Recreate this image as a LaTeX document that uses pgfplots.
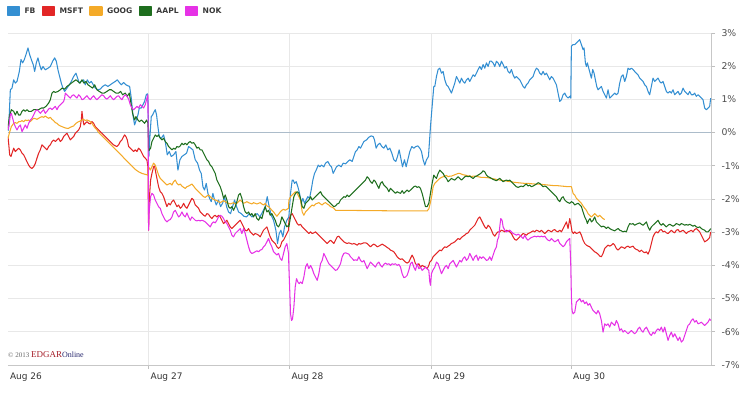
\documentclass[border=0pt]{standalone}
\usepackage{pgfplots}
\pgfplotsset{compat=1.18}
\usepackage{fontspec}
\setmainfont{DejaVu Sans}
\newfontfamily\lserif{Liberation Serif}
\definecolor{cFB}{RGB}{52,143,210}
\definecolor{cMS}{RGB}{226,38,38}
\definecolor{cGO}{RGB}{244,170,40}
\definecolor{cAA}{RGB}{30,110,30}
\definecolor{cNO}{RGB}{230,50,230}
\definecolor{zeroline}{RGB}{172,188,202}
\definecolor{edgarred}{RGB}{165,30,40}
\definecolor{edgarblue}{RGB}{40,40,110}
\begin{document}
\begin{tikzpicture}
\useasboundingbox (0pt,0pt) rectangle (750pt,395pt);
\begin{axis}[
  at={(8pt,30pt)}, anchor=south west,
  scale only axis, width=703pt, height=332pt,
  xmin=0, xmax=2110, ymin=-7, ymax=3,
  axis x line*=bottom, axis y line*=right,
  axis line style={draw=black!22, line width=0.8pt},
  xtick={422,845,1270,1690},
  xticklabels={Aug 27,Aug 28,Aug 29,Aug 30},
  extra x ticks={0}, extra x tick labels={Aug 26},
  extra x tick style={grid=none, tick style={draw=none}},
  ytick={-7,-6,-5,-4,-3,-2,-1,1,2,3},
  yticklabels={-7\%,-6\%,-5\%,-4\%,-3\%,-2\%,-1\%,1\%,2\%,3\%},
  extra y ticks={0}, extra y tick labels={0\%},
  extra y tick style={major grid style={draw=zeroline, line width=0.9pt}},
  grid=major,
  major grid style={draw=black!9, line width=0.8pt},
  tick align=outside, major tick length=4pt,
  tick style={draw=black!25, line width=0.8pt},
  xticklabel style={anchor=north west, xshift=-1.5pt, font=\fontsize{9}{10}\selectfont, text=black!80},
  yticklabel style={anchor=west, xshift=3pt, font=\fontsize{9.3}{10}\selectfont, text=black!70},
  legend columns=5,
  legend cell align=left,
  legend image code/.code={\fill[#1] (0pt,-4pt) rectangle (12pt,4pt);},
  legend style={at={(rel axis cs:0,1)}, anchor=west, xshift=-1pt, yshift=22pt,
    draw=none, fill=none, inner sep=0pt, outer sep=0pt,
    font=\bfseries\fontsize{7.6}{8}\selectfont, text=black!78,
    /tikz/every odd column/.append style={column sep=2.5pt},
    /tikz/every even column/.append style={column sep=4.5pt}},
  every axis plot/.append style={line width=1.05pt, line join=round},
]
% FB
\addplot[color=cFB] coordinates {
(0,0.05)(2,0.13)(7,1.29)(12,1.34)(17,1.59)(22,1.49)(27,1.54)(34,1.84)(39,2.20)(44,2.10)(49,2.20)(54,2.35)(60,2.55)(65,2.35)(70,2.20)(76,2.04)(80,1.84)(85,2.10)(90,2.25)(95,2.04)(100,1.89)(105,1.99)(112,1.89)(120,1.94)(127,1.99)(134,2.15)(140,2.25)(145,2.15)(150,1.89)(155,1.69)(160,1.49)(165,1.34)(170,1.24)(177,1.34)(184,1.44)(190,1.54)(197,1.69)(204,1.79)(209,1.64)(214,1.49)(220,1.54)(227,1.59)(232,1.44)(238,1.59)(244,1.49)(250,1.54)(256,1.44)(262,1.34)(270,1.29)(277,1.31)(284,1.39)(292,1.44)(300,1.39)(307,1.44)(314,1.49)(322,1.54)(328,1.59)(334,1.51)(340,1.44)(347,1.51)(354,1.44)(360,1.41)(365,1.39)(370,1.04)(375,0.53)(380,0.23)(385,0.38)(390,0.53)(394,0.74)(400,0.74)(405,0.84)(410,0.94)(415,1.14)(418,1.17)(420,1.04)
(423,-0.72)(426,-0.12)(430,0.48)(434,0.53)(439,0.64)(442,0.69)(446,0.53)(450,0.18)(454,-0.12)(460,-0.17)(467,-0.07)(472,-0.27)(478,-0.67)(484,-0.57)(490,-0.72)(497,-0.67)(504,-0.57)(510,-1.13)(516,-0.82)(522,-0.72)(529,-0.67)(536,-0.62)(542,-0.42)(549,-0.47)(555,-0.52)(562,-0.82)(569,-0.92)(575,-1.13)(580,-1.23)(585,-1.63)(590,-1.73)(595,-1.53)(600,-1.83)(605,-1.98)(610,-2.08)(615,-1.83)(620,-2.03)(625,-2.18)(632,-2.03)(638,-2.23)(644,-2.13)(650,-1.93)(656,-2.23)(662,-2.39)(668,-2.44)(674,-2.23)(680,-2.03)(686,-2.23)(692,-2.39)(700,-2.44)(708,-2.52)(716,-2.54)(724,-2.44)(732,-2.54)(740,-2.49)(748,-2.44)(756,-2.54)(764,-2.39)(772,-2.23)(778,-1.93)(784,-2.23)(790,-2.49)(797,-2.64)(804,-2.94)(809,-3.34)(814,-3.04)(819,-2.94)(825,-3.14)(830,-2.84)(837,-2.64)(843,-2.54)
(848,-1.83)(853,-1.43)(856,-1.43)(860,-1.53)(865,-1.48)(870,-1.63)(875,-1.83)(880,-2.13)(885,-1.98)(890,-2.13)(895,-2.03)(900,-1.93)(905,-1.98)(910,-1.73)(915,-1.43)(920,-1.23)(925,-1.13)(931,-0.98)(936,-1.03)(941,-0.98)(948,-1.03)(953,-0.92)(960,-0.87)(966,-0.98)(971,-1.03)(976,-1.23)(981,-1.13)(986,-1.03)(993,-0.98)(1000,-1.03)(1006,-0.92)(1013,-0.94)(1020,-0.87)(1026,-0.82)(1033,-0.87)(1038,-0.72)(1043,-0.57)(1048,-0.52)(1053,-0.42)(1058,-0.47)(1063,-0.37)(1068,-0.27)(1076,-0.22)(1083,-0.14)(1090,-0.10)(1096,-0.12)(1100,-0.22)(1105,-0.47)(1110,-0.37)(1116,-0.32)(1122,-0.42)(1128,-0.47)(1134,-0.37)(1140,-0.52)(1146,-0.47)(1152,-0.62)(1158,-0.82)(1164,-0.87)(1169,-0.72)(1174,-0.52)(1179,-0.77)(1184,-1.03)(1190,-0.82)(1195,-1.03)(1200,-0.82)(1206,-0.57)(1212,-0.42)(1218,-0.47)(1224,-0.42)(1230,-0.40)(1236,-0.47)(1241,-0.57)(1246,-0.82)(1251,-0.98)(1256,-0.82)(1262,-0.72)(1268,0.18)(1273,0.79)(1278,1.39)
(1281,1.39)(1286,1.69)(1291,1.90)(1296,1.94)(1301,1.79)(1306,1.84)(1311,1.59)(1316,1.44)(1321,1.39)(1326,1.29)(1331,1.19)(1336,1.34)(1341,1.49)(1346,1.69)(1351,1.59)(1356,1.49)(1361,1.64)(1366,1.54)(1371,1.49)(1376,1.59)(1381,1.64)(1386,1.54)(1391,1.64)(1396,1.74)(1401,1.69)(1406,1.79)(1411,1.90)(1416,1.99)(1421,1.90)(1426,2.05)(1431,1.94)(1436,2.10)(1441,1.99)(1446,2.15)(1451,2.15)(1456,2.10)(1461,1.99)(1466,2.15)(1471,2.10)(1476,1.99)(1481,2.15)(1486,2.05)(1491,1.94)(1496,1.99)(1501,1.84)(1506,1.79)(1511,1.90)(1516,1.74)(1521,1.64)(1526,1.69)(1531,1.64)(1536,1.59)(1541,1.49)(1546,1.39)(1551,1.34)(1556,1.44)(1561,1.49)(1566,1.59)(1571,1.64)(1576,1.69)(1581,1.84)(1586,1.94)(1591,1.90)(1596,1.79)(1601,1.74)(1606,1.84)(1611,1.74)(1616,1.79)(1621,1.69)(1626,1.59)(1631,1.69)(1636,1.64)(1641,1.54)(1646,1.44)(1651,1.19)(1656,0.94)(1661,0.99)(1666,1.14)(1671,1.19)(1676,1.09)(1681,1.04)(1686,1.09)(1689,1.04)
(1691,2.60)(1696,2.65)(1701,2.65)(1706,2.70)(1711,2.75)(1716,2.80)(1721,2.65)(1726,2.50)(1729,2.55)(1733,2.10)(1736,1.99)(1739,2.10)(1743,1.94)(1747,1.79)(1751,1.64)(1755,1.90)(1759,1.79)(1763,1.59)(1767,1.39)(1771,1.29)(1776,1.34)(1781,1.39)(1786,1.24)(1791,1.14)(1796,1.04)(1801,1.29)(1806,1.04)(1811,1.09)(1816,1.14)(1821,1.19)(1826,1.14)(1831,1.19)(1836,1.49)(1841,1.69)(1846,1.74)(1851,1.54)(1856,1.69)(1861,1.94)(1866,1.90)(1871,1.94)(1876,1.90)(1881,1.84)(1886,1.79)(1891,1.74)(1896,1.64)(1901,1.59)(1906,1.54)(1911,1.44)(1916,1.39)(1921,1.24)(1926,1.14)(1931,1.39)(1936,1.64)(1941,1.54)(1946,1.59)(1951,1.64)(1956,1.54)(1961,1.49)(1966,1.54)(1971,1.39)(1976,1.24)(1981,1.19)(1986,1.24)(1991,1.19)(1996,1.29)(2001,1.14)(2006,1.19)(2011,1.24)(2016,1.14)(2021,1.19)(2026,1.34)(2031,1.24)(2036,1.19)(2041,1.14)(2046,1.24)(2051,1.14)(2056,1.14)(2061,1.19)(2066,1.09)(2071,1.14)(2076,1.09)(2081,1.04)(2086,0.99)(2091,0.74)(2096,0.69)(2101,0.74)(2106,0.79)(2109,1.04)
};
\addlegendentry{FB}
% MSFT
\addplot[color=cMS] coordinates {
(0,-0.12)(2,-0.32)(5,-0.67)(9,-0.72)(12,-0.62)(17,-0.47)(22,-0.57)(27,-0.52)(32,-0.47)(37,-0.52)(42,-0.62)(47,-0.67)(52,-0.77)(57,-0.88)(62,-0.98)(67,-1.05)(72,-1.08)(77,-1.03)(82,-0.93)(87,-0.77)(92,-0.62)(97,-0.52)(102,-0.37)(107,-0.42)(112,-0.47)(117,-0.52)(122,-0.42)(127,-0.37)(132,-0.27)(137,-0.22)(142,-0.27)(147,-0.22)(152,-0.17)(157,-0.27)(162,-0.22)(167,-0.12)(172,-0.07)(177,-0.02)(182,-0.12)(187,-0.22)(192,-0.17)(197,-0.12)(202,-0.02)(207,0.03)(212,0.08)(217,0.18)(220,0.38)(222,0.64)(225,0.38)(228,0.23)(232,0.28)(237,0.33)(242,0.28)(247,0.26)(252,0.33)(257,0.28)(262,0.18)(267,0.13)(272,0.08)(277,0.03)(282,-0.02)(287,-0.07)(292,-0.12)(297,-0.17)(302,-0.22)(307,-0.27)(312,-0.32)(317,-0.37)(322,-0.40)(327,-0.42)(332,-0.37)(337,-0.27)(342,-0.22)(347,-0.12)(350,-0.07)(354,-0.12)(358,-0.22)(362,-0.42)(367,-0.47)(372,-0.52)(377,-0.57)(382,-0.52)(387,-0.57)(392,-0.47)(397,-0.52)(402,-0.62)(407,-0.72)(412,-0.77)(417,-0.83)(420,-1.03)
(422,-2.94)(424,-2.03)(428,-1.43)(432,-1.23)(437,-1.03)(440,-1.01)(444,-1.23)(448,-1.43)(452,-1.63)(457,-1.78)(462,-1.83)(467,-1.93)(472,-2.08)(477,-2.23)(482,-2.13)(487,-2.18)(492,-2.08)(497,-2.03)(502,-2.13)(507,-2.23)(512,-2.18)(517,-2.28)(522,-2.23)(527,-2.13)(532,-2.23)(537,-2.28)(542,-2.18)(547,-2.08)(552,-1.98)(557,-2.03)(562,-2.18)(567,-2.23)(572,-2.28)(577,-2.39)(582,-2.44)(587,-2.49)(592,-2.52)(597,-2.44)(602,-2.46)(607,-2.54)(612,-2.59)(617,-2.52)(622,-2.49)(627,-2.54)(632,-2.49)(637,-2.54)(642,-2.64)(647,-2.74)(652,-2.69)(657,-2.64)(662,-2.74)(667,-2.84)(672,-2.89)(677,-2.84)(682,-2.79)(687,-2.74)(692,-2.69)(697,-2.64)(702,-2.74)(707,-2.84)(712,-2.94)(717,-2.96)(722,-2.89)(727,-2.99)(732,-3.04)(737,-3.09)(742,-3.04)(747,-3.06)(752,-3.09)(757,-3.14)(762,-3.04)(767,-2.94)(772,-2.89)(777,-2.84)(782,-2.99)(787,-3.14)(792,-3.24)(797,-3.29)(802,-3.34)(807,-3.44)(812,-3.49)(817,-3.44)(822,-3.29)(827,-3.24)(832,-3.14)(837,-3.04)(842,-2.94)
(843,-2.64)(848,-2.49)(853,-2.44)(858,-2.54)(863,-2.64)(868,-2.74)(873,-2.79)(878,-2.76)(883,-2.84)(888,-2.89)(893,-2.94)(898,-2.99)(903,-3.04)(908,-2.99)(913,-3.04)(918,-3.02)(923,-2.99)(928,-3.04)(933,-3.09)(938,-3.14)(943,-3.19)(948,-3.24)(953,-3.29)(958,-3.34)(963,-3.29)(968,-3.24)(973,-3.29)(978,-3.34)(983,-3.24)(988,-3.14)(993,-3.12)(998,-3.19)(1003,-3.24)(1008,-3.29)(1013,-3.32)(1018,-3.34)(1023,-3.32)(1028,-3.34)(1033,-3.36)(1038,-3.34)(1043,-3.36)(1048,-3.39)(1053,-3.34)(1058,-3.36)(1063,-3.34)(1068,-3.32)(1073,-3.32)(1078,-3.34)(1083,-3.39)(1088,-3.44)(1093,-3.39)(1098,-3.36)(1103,-3.39)(1108,-3.44)(1113,-3.42)(1118,-3.39)(1123,-3.36)(1128,-3.39)(1133,-3.42)(1138,-3.46)(1143,-3.49)(1148,-3.54)(1153,-3.56)(1158,-3.59)(1163,-3.66)(1168,-3.74)(1173,-3.79)(1178,-3.82)(1183,-3.80)(1188,-3.85)(1193,-3.90)(1198,-3.93)(1203,-3.90)(1208,-3.79)(1213,-3.69)(1218,-3.79)(1223,-3.95)(1228,-4.00)(1233,-3.95)(1238,-4.05)(1243,-4.00)(1248,-4.03)(1253,-4.05)(1258,-4.10)(1263,-4.00)
(1266,-3.90)(1271,-3.85)(1276,-3.74)(1281,-3.69)(1286,-3.64)(1291,-3.59)(1296,-3.54)(1301,-3.56)(1306,-3.49)(1311,-3.44)(1316,-3.46)(1321,-3.42)(1326,-3.39)(1331,-3.34)(1336,-3.32)(1341,-3.29)(1346,-3.24)(1351,-3.19)(1356,-3.22)(1361,-3.16)(1366,-3.12)(1371,-3.09)(1376,-3.04)(1381,-3.02)(1386,-2.94)(1391,-2.89)(1396,-2.84)(1401,-2.79)(1406,-2.69)(1411,-2.59)(1416,-2.54)(1421,-2.64)(1426,-2.74)(1431,-2.84)(1436,-2.89)(1441,-2.79)(1446,-2.84)(1451,-2.94)(1456,-3.06)(1461,-3.12)(1466,-3.04)(1471,-2.99)(1476,-2.99)(1481,-2.94)(1486,-2.96)(1491,-2.99)(1496,-2.94)(1501,-2.96)(1506,-2.99)(1511,-3.04)(1516,-3.14)(1521,-3.22)(1526,-3.24)(1531,-3.19)(1536,-3.14)(1541,-3.09)(1546,-3.04)(1551,-3.06)(1556,-3.09)(1561,-3.04)(1566,-3.02)(1571,-2.99)(1576,-2.96)(1581,-2.99)(1586,-2.94)(1591,-2.96)(1596,-2.99)(1601,-2.94)(1606,-2.99)(1611,-3.04)(1616,-2.99)(1621,-2.94)(1626,-2.96)(1631,-2.99)(1636,-2.94)(1641,-2.92)(1646,-2.97)(1651,-2.99)(1656,-2.94)(1661,-2.99)(1666,-2.89)(1671,-2.79)(1676,-2.69)(1681,-2.89)(1686,-2.59)
(1689,-2.74)(1693,-2.99)(1697,-3.04)(1701,-2.99)(1706,-3.04)(1711,-3.02)(1716,-2.99)(1721,-3.09)(1726,-3.24)(1731,-3.34)(1736,-3.39)(1741,-3.42)(1746,-3.44)(1751,-3.49)(1756,-3.54)(1761,-3.59)(1766,-3.62)(1771,-3.66)(1776,-3.72)(1781,-3.74)(1786,-3.64)(1791,-3.49)(1796,-3.44)(1801,-3.39)(1806,-3.42)(1811,-3.39)(1816,-3.34)(1821,-3.39)(1826,-3.49)(1831,-3.54)(1836,-3.49)(1841,-3.44)(1846,-3.46)(1851,-3.49)(1856,-3.44)(1861,-3.42)(1866,-3.46)(1871,-3.44)(1876,-3.42)(1881,-3.49)(1886,-3.52)(1891,-3.54)(1896,-3.59)(1901,-3.54)(1906,-3.59)(1911,-3.62)(1916,-3.59)(1921,-3.66)(1926,-3.54)(1931,-3.34)(1936,-3.14)(1941,-3.04)(1946,-2.99)(1951,-3.02)(1956,-2.94)(1961,-2.92)(1966,-2.99)(1971,-2.97)(1976,-3.02)(1981,-3.04)(1986,-2.99)(1991,-2.94)(1996,-2.99)(2001,-3.02)(2006,-2.94)(2011,-2.92)(2016,-2.99)(2021,-2.97)(2026,-2.94)(2031,-2.99)(2036,-3.04)(2041,-2.99)(2046,-2.97)(2051,-2.94)(2056,-2.99)(2061,-2.92)(2066,-2.89)(2071,-2.94)(2076,-2.99)(2081,-3.09)(2086,-3.19)(2091,-3.29)(2096,-3.26)(2101,-3.22)(2106,-3.16)(2109,-2.99)
};
\addlegendentry{MSFT}
% GOOG
\addplot[color=cGO] coordinates {
(0,-0.17)(4,-0.02)(10,0.18)(17,0.28)(22,0.30)(27,0.28)(32,0.33)(37,0.33)(42,0.36)(47,0.33)(52,0.38)(57,0.36)(62,0.38)(67,0.33)(72,0.38)(77,0.43)(82,0.42)(87,0.40)(92,0.43)(97,0.46)(102,0.48)(107,0.46)(112,0.50)(117,0.46)(122,0.43)(127,0.46)(132,0.40)(137,0.36)(142,0.30)(147,0.28)(152,0.23)(157,0.20)(162,0.18)(167,0.16)(172,0.14)(177,0.13)(182,0.13)(187,0.16)(192,0.18)(197,0.20)(202,0.26)(207,0.30)(212,0.33)(217,0.35)(222,0.38)(227,0.40)(232,0.36)(237,0.38)(242,0.36)(247,0.33)(252,0.28)(257,0.20)(262,0.13)(267,0.08)(272,0.00)(282,-0.10)(292,-0.20)(302,-0.30)(312,-0.40)(322,-0.50)(332,-0.60)(342,-0.70)(352,-0.81)(362,-0.91)(372,-1.01)(382,-1.11)(392,-1.18)(402,-1.23)(420,-1.28)
(422,-1.03)(427,-1.13)(432,-1.03)(437,-0.92)(442,-0.98)(447,-1.13)(452,-1.28)(457,-1.38)(462,-1.43)(467,-1.48)(472,-1.53)(477,-1.58)(482,-1.55)(487,-1.53)(492,-1.58)(497,-1.48)(502,-1.43)(507,-1.53)(512,-1.58)(517,-1.55)(522,-1.61)(527,-1.65)(532,-1.68)(537,-1.63)(542,-1.61)(547,-1.58)(552,-1.55)(557,-1.61)(562,-1.68)(567,-1.73)(572,-1.78)(577,-1.83)(582,-1.88)(587,-1.93)(592,-1.95)(597,-1.91)(602,-1.88)(607,-1.93)(612,-1.98)(617,-2.01)(622,-2.03)(627,-2.05)(632,-2.08)(637,-2.11)(642,-2.08)(647,-2.05)(652,-2.08)(657,-2.11)(662,-2.13)(667,-2.15)(672,-2.13)(677,-2.11)(682,-2.15)(687,-2.13)(692,-2.08)(697,-2.03)(702,-2.08)(707,-2.13)(712,-2.11)(717,-2.08)(722,-2.11)(727,-2.13)(732,-2.15)(737,-2.11)(742,-2.13)(747,-2.15)(752,-2.13)(757,-2.11)(762,-2.15)(767,-2.18)(772,-2.13)(777,-2.21)(782,-2.23)(787,-2.28)(792,-2.34)(797,-2.39)(802,-2.46)(807,-2.52)(812,-2.46)(817,-2.39)(822,-2.34)(827,-2.31)(832,-2.34)(837,-2.31)(842,-2.28)
(843,-2.03)(848,-1.93)(853,-1.88)(858,-1.83)(863,-1.78)(868,-1.83)(873,-1.93)(878,-2.03)(883,-2.39)(888,-2.49)(893,-2.39)(898,-2.34)(903,-2.28)(908,-2.23)(913,-2.18)(918,-2.21)(923,-2.15)(928,-2.13)(933,-2.11)(938,-2.15)(943,-2.18)(948,-2.13)(953,-2.11)(958,-2.15)(963,-2.18)(968,-2.23)(973,-2.25)(978,-2.28)(983,-2.34)(988,-2.34)(1088,-2.35)(1188,-2.36)(1258,-2.36)(1263,-2.30)(1268,-2.10)(1272,-1.90)(1276,-1.63)
(1281,-1.53)(1286,-1.48)(1291,-1.43)(1296,-1.38)(1301,-1.35)(1306,-1.33)(1311,-1.31)(1316,-1.29)(1321,-1.33)(1326,-1.31)(1331,-1.31)(1336,-1.29)(1341,-1.27)(1346,-1.25)(1351,-1.23)(1356,-1.23)(1361,-1.25)(1366,-1.27)(1371,-1.28)(1376,-1.29)(1381,-1.31)(1386,-1.30)(1391,-1.33)(1396,-1.31)(1401,-1.31)(1411,-1.33)(1421,-1.35)(1431,-1.35)(1441,-1.36)(1451,-1.38)(1461,-1.40)(1471,-1.42)(1481,-1.44)(1491,-1.45)(1501,-1.47)(1511,-1.48)(1521,-1.50)(1531,-1.51)(1541,-1.52)(1551,-1.53)(1561,-1.53)(1571,-1.54)(1581,-1.55)(1591,-1.55)(1601,-1.56)(1611,-1.57)(1621,-1.58)(1631,-1.59)(1641,-1.60)(1651,-1.60)(1661,-1.61)(1671,-1.62)(1681,-1.63)(1689,-1.63)
(1691,-1.63)(1696,-1.83)(1701,-1.88)(1706,-1.98)(1711,-2.03)(1716,-2.08)(1721,-2.13)(1726,-2.21)(1731,-2.28)(1736,-2.34)(1741,-2.44)(1746,-2.49)(1751,-2.54)(1756,-2.49)(1761,-2.44)(1766,-2.49)(1771,-2.54)(1776,-2.49)(1781,-2.54)(1786,-2.59)(1791,-2.62)
};
\addlegendentry{GOOG}
% AAPL
\addplot[color=cAA] coordinates {
(0,0.13)(4,0.48)(10,0.69)(17,0.64)(22,0.53)(27,0.64)(32,0.53)(37,0.53)(42,0.64)(47,0.69)(52,0.64)(57,0.69)(62,0.64)(70,0.64)(77,0.69)(84,0.69)(92,0.69)(100,0.74)(107,0.74)(114,0.79)(122,0.89)(127,0.99)(132,1.19)(137,1.24)(142,1.21)(150,1.24)(157,1.29)(162,1.34)(170,1.31)(177,1.39)(184,1.44)(190,1.49)(197,1.54)(204,1.59)(210,1.54)(216,1.49)(222,1.59)(228,1.49)(234,1.54)(240,1.44)(247,1.39)(254,1.34)(260,1.44)(267,1.29)(274,1.24)(282,1.19)(289,1.19)(297,1.24)(304,1.29)(310,1.29)(317,1.24)(324,1.19)(332,1.19)(338,1.24)(344,1.14)(352,1.19)(358,1.09)(364,1.19)(369,0.89)(374,0.58)(380,0.38)(384,0.48)(390,0.38)(395,0.33)(400,0.38)(405,0.33)(410,0.28)(416,0.38)(420,0.28)
(422,-0.55)(428,-0.47)(432,-0.27)(437,-0.17)(442,-0.07)(447,-0.12)(452,-0.07)(457,-0.17)(462,-0.22)(467,-0.17)(472,-0.27)(477,-0.32)(482,-0.42)(487,-0.47)(492,-0.52)(497,-0.47)(502,-0.50)(507,-0.42)(512,-0.44)(517,-0.40)(522,-0.32)(527,-0.37)(532,-0.32)(537,-0.37)(542,-0.30)(547,-0.27)(552,-0.32)(557,-0.30)(562,-0.37)(567,-0.47)(572,-0.44)(577,-0.52)(582,-0.52)(587,-0.62)(592,-0.72)(597,-0.82)(602,-0.87)(607,-0.98)(612,-1.03)(617,-1.13)(622,-1.23)(627,-1.43)(632,-1.53)(637,-1.63)(642,-1.78)(647,-1.98)(652,-1.88)(657,-2.03)(662,-2.23)(667,-2.28)(672,-2.23)(677,-2.34)(682,-2.23)(687,-2.08)(692,-1.88)(697,-1.83)(702,-1.98)(707,-2.23)(712,-2.39)(717,-2.44)(722,-2.39)(727,-2.49)(732,-2.44)(737,-2.54)(742,-2.44)(747,-2.59)(752,-2.64)(757,-2.54)(762,-2.59)(767,-2.39)(772,-2.23)(777,-2.39)(782,-2.34)(787,-2.49)(792,-2.44)(797,-2.54)(802,-2.64)(807,-2.79)(812,-2.84)(817,-2.74)(822,-2.54)(827,-2.64)(832,-2.74)(837,-2.84)(842,-2.79)
(843,-2.84)(848,-2.54)(853,-2.23)(858,-1.93)(863,-1.83)(868,-1.78)(873,-1.83)(878,-1.98)(883,-2.23)(888,-2.28)(893,-2.13)(898,-2.08)(903,-2.03)(908,-1.93)(913,-2.03)(918,-1.98)(923,-1.93)(928,-1.88)(933,-1.83)(938,-1.78)(943,-1.88)(948,-1.93)(953,-1.98)(958,-2.03)(963,-2.08)(968,-2.13)(973,-2.18)(978,-2.23)(983,-2.21)(988,-2.15)(993,-2.13)(998,-2.03)(1003,-1.98)(1008,-1.93)(1013,-1.95)(1018,-1.88)(1023,-1.93)(1028,-1.88)(1033,-1.83)(1038,-1.78)(1043,-1.73)(1048,-1.68)(1053,-1.63)(1058,-1.58)(1063,-1.53)(1068,-1.48)(1073,-1.43)(1078,-1.33)(1083,-1.38)(1088,-1.48)(1093,-1.53)(1098,-1.43)(1103,-1.48)(1108,-1.58)(1113,-1.68)(1118,-1.53)(1123,-1.48)(1128,-1.58)(1133,-1.63)(1138,-1.68)(1143,-1.78)(1148,-1.68)(1153,-1.73)(1158,-1.78)(1163,-1.83)(1168,-1.78)(1173,-1.81)(1178,-1.83)(1183,-1.75)(1188,-1.83)(1193,-1.78)(1198,-1.73)(1203,-1.78)(1208,-1.73)(1213,-1.68)(1218,-1.63)(1223,-1.61)(1228,-1.65)(1233,-1.63)(1238,-1.68)(1243,-1.83)(1248,-2.03)(1253,-2.23)(1258,-2.23)(1263,-2.13)(1268,-1.83)(1273,-1.53)(1278,-1.28)
(1281,-1.33)(1286,-1.38)(1291,-1.23)(1296,-1.13)(1301,-1.18)(1306,-1.23)(1311,-1.33)(1316,-1.38)(1321,-1.48)(1326,-1.43)(1331,-1.38)(1336,-1.41)(1341,-1.43)(1346,-1.38)(1351,-1.33)(1356,-1.38)(1361,-1.43)(1366,-1.38)(1371,-1.33)(1376,-1.31)(1381,-1.33)(1386,-1.31)(1391,-1.35)(1396,-1.38)(1401,-1.33)(1406,-1.31)(1411,-1.28)(1416,-1.25)(1421,-1.21)(1426,-1.15)(1431,-1.18)(1436,-1.28)(1441,-1.33)(1446,-1.35)(1451,-1.38)(1456,-1.41)(1461,-1.43)(1466,-1.45)(1471,-1.41)(1476,-1.38)(1481,-1.43)(1486,-1.48)(1491,-1.45)(1496,-1.43)(1501,-1.45)(1506,-1.43)(1511,-1.48)(1516,-1.53)(1521,-1.58)(1526,-1.63)(1531,-1.65)(1536,-1.63)(1541,-1.61)(1546,-1.63)(1551,-1.58)(1556,-1.55)(1561,-1.61)(1566,-1.58)(1571,-1.63)(1576,-1.61)(1581,-1.58)(1586,-1.55)(1591,-1.51)(1596,-1.53)(1601,-1.58)(1606,-1.63)(1611,-1.61)(1616,-1.63)(1621,-1.68)(1626,-1.73)(1631,-1.78)(1636,-1.83)(1641,-1.88)(1646,-1.93)(1651,-2.03)(1656,-2.08)(1661,-1.98)(1666,-1.93)(1671,-2.03)(1676,-2.08)(1681,-2.11)(1686,-2.13)
(1691,-2.08)(1696,-2.11)(1701,-2.18)(1706,-2.15)(1711,-2.13)(1716,-2.18)(1721,-2.23)(1726,-2.39)(1731,-2.54)(1736,-2.64)(1739,-2.74)(1743,-2.64)(1747,-2.59)(1751,-2.69)(1756,-2.64)(1761,-2.54)(1766,-2.69)(1771,-2.74)(1776,-2.79)(1781,-2.84)(1786,-2.82)(1791,-2.84)(1796,-2.89)(1801,-2.84)(1806,-2.89)(1811,-2.92)(1816,-2.94)(1821,-2.96)(1826,-2.92)(1831,-2.89)(1836,-2.94)(1841,-2.96)(1846,-2.99)(1851,-2.97)(1856,-2.99)(1861,-2.84)(1866,-2.74)(1871,-2.76)(1876,-2.74)(1881,-2.79)(1886,-2.76)(1891,-2.74)(1896,-2.72)(1901,-2.76)(1906,-2.79)(1911,-2.74)(1916,-2.69)(1921,-2.84)(1926,-2.94)(1931,-2.84)(1936,-2.79)(1941,-2.74)(1946,-2.69)(1951,-2.64)(1956,-2.74)(1961,-2.79)(1966,-2.74)(1971,-2.79)(1976,-2.84)(1981,-2.79)(1986,-2.76)(1991,-2.79)(1996,-2.82)(2001,-2.79)(2006,-2.74)(2011,-2.76)(2016,-2.79)(2021,-2.74)(2026,-2.76)(2031,-2.79)(2036,-2.77)(2041,-2.79)(2046,-2.76)(2051,-2.79)(2056,-2.82)(2061,-2.79)(2066,-2.84)(2071,-2.86)(2076,-2.84)(2081,-2.89)(2086,-2.92)(2091,-2.94)(2096,-2.99)(2101,-2.99)(2106,-2.94)(2109,-2.89)
};
\addlegendentry{AAPL}
% NOK
\addplot[color=cNO] coordinates {
(0,0.08)(4,0.28)(7,0.53)(10,0.58)(14,0.43)(18,0.28)(22,0.18)(27,0.08)(32,0.18)(37,0.23)(42,0.03)(47,0.13)(52,0.23)(57,0.13)(62,0.28)(67,0.38)(72,0.43)(77,0.53)(82,0.64)(87,0.69)(92,0.64)(97,0.58)(102,0.64)(107,0.69)(112,0.58)(117,0.64)(122,0.71)(127,0.74)(132,0.69)(137,0.74)(142,0.79)(147,0.69)(152,0.79)(157,0.84)(162,0.89)(167,0.94)(170,1.04)(172,1.19)(177,1.14)(182,1.09)(187,1.04)(192,1.11)(197,1.14)(202,1.09)(207,1.04)(212,1.14)(217,1.09)(222,0.99)(227,1.01)(232,1.06)(237,1.11)(242,1.04)(247,0.99)(252,1.06)(257,1.11)(262,1.04)(267,0.99)(272,1.04)(277,1.09)(282,1.14)(287,1.11)(292,1.04)(297,1.01)(302,1.06)(307,1.11)(312,1.04)(317,0.99)(322,1.04)(327,1.09)(332,1.11)(337,1.04)(342,0.99)(347,1.09)(352,1.14)(357,1.09)(362,1.01)(367,0.84)(372,0.74)(377,0.69)(382,0.74)(387,0.79)(392,0.74)(397,0.84)(402,0.79)(407,0.74)(412,0.84)(417,1.04)(420,1.14)
(422,-2.94)(424,-2.34)(428,-1.93)(432,-1.83)(437,-1.88)(442,-2.03)(447,-2.13)(452,-2.23)(457,-2.28)(462,-2.44)(467,-2.54)(472,-2.64)(477,-2.69)(482,-2.64)(487,-2.62)(492,-2.54)(497,-2.39)(502,-2.34)(507,-2.44)(512,-2.54)(517,-2.49)(522,-2.39)(527,-2.49)(532,-2.54)(537,-2.42)(542,-2.54)(547,-2.64)(552,-2.54)(557,-2.59)(562,-2.64)(567,-2.66)(572,-2.64)(577,-2.66)(582,-2.64)(587,-2.66)(592,-2.69)(597,-2.74)(602,-2.79)(607,-2.84)(612,-2.74)(617,-2.69)(622,-2.72)(627,-2.64)(632,-2.54)(637,-2.49)(642,-2.52)(647,-2.59)(652,-2.69)(657,-2.74)(662,-2.84)(667,-2.94)(672,-3.09)(677,-3.14)(682,-3.04)(687,-2.99)(692,-2.94)(697,-2.89)(702,-3.04)(707,-2.89)(712,-3.04)(717,-3.24)(722,-3.44)(727,-3.59)(732,-3.64)(737,-3.62)(742,-3.59)(747,-3.56)(752,-3.59)(757,-3.54)(762,-3.52)(767,-3.44)(772,-3.39)(777,-3.29)(782,-3.19)(787,-3.34)(792,-3.44)(797,-3.59)(802,-3.64)(807,-3.69)(812,-3.64)(817,-3.79)(822,-3.85)(827,-3.64)(832,-3.44)(837,-3.34)(842,-3.64)
(843,-4.05)(846,-4.85)(848,-5.46)(851,-5.66)(854,-5.61)(858,-5.26)(862,-4.65)(866,-4.40)(870,-4.50)(874,-4.55)(878,-4.50)(883,-4.55)(888,-4.35)(893,-4.05)(898,-3.95)(903,-4.10)(908,-4.00)(913,-4.10)(918,-4.25)(923,-4.35)(928,-4.45)(933,-4.25)(938,-3.95)(943,-3.85)(948,-3.64)(953,-3.74)(958,-3.85)(963,-3.95)(968,-4.00)(973,-4.05)(978,-4.10)(983,-4.15)(988,-4.13)(993,-4.05)(998,-3.95)(1003,-3.74)(1008,-3.64)(1013,-3.62)(1018,-3.64)(1023,-3.66)(1028,-3.74)(1033,-3.79)(1038,-3.85)(1043,-3.83)(1048,-3.85)(1053,-3.74)(1058,-3.85)(1063,-3.90)(1068,-3.85)(1073,-3.97)(1078,-4.10)(1083,-4.00)(1088,-3.90)(1093,-3.95)(1098,-4.00)(1103,-4.05)(1108,-3.95)(1113,-3.90)(1118,-4.00)(1123,-4.05)(1128,-3.97)(1133,-3.93)(1138,-3.97)(1143,-3.95)(1148,-4.00)(1153,-3.95)(1158,-3.97)(1163,-3.95)(1168,-4.00)(1173,-3.97)(1178,-4.05)(1183,-4.25)(1188,-4.37)(1193,-4.35)(1198,-4.30)(1203,-4.15)(1208,-3.95)(1213,-3.90)(1218,-4.05)(1223,-4.15)(1228,-3.95)(1233,-4.10)(1238,-4.05)(1243,-4.15)(1248,-4.10)(1253,-4.05)(1258,-4.10)(1263,-4.15)(1266,-4.50)(1268,-4.60)(1271,-4.25)(1275,-4.15)
(1281,-4.05)(1286,-3.90)(1291,-3.95)(1296,-4.10)(1301,-4.25)(1306,-4.15)(1311,-4.05)(1316,-4.00)(1321,-4.10)(1326,-3.95)(1331,-3.90)(1336,-3.85)(1341,-3.95)(1346,-4.05)(1351,-3.95)(1356,-3.85)(1361,-3.90)(1366,-3.79)(1371,-3.74)(1376,-3.85)(1381,-3.79)(1386,-3.64)(1391,-3.74)(1396,-3.85)(1401,-3.74)(1406,-3.69)(1411,-3.85)(1416,-3.74)(1421,-3.79)(1426,-3.74)(1431,-3.79)(1436,-3.85)(1441,-3.83)(1446,-3.74)(1451,-3.85)(1456,-3.69)(1461,-3.54)(1466,-3.44)(1469,-3.24)(1473,-3.14)(1476,-2.84)(1479,-2.59)(1483,-2.64)(1486,-2.84)(1491,-2.94)(1496,-2.99)(1501,-2.96)(1506,-2.94)(1511,-2.99)(1516,-3.04)(1521,-3.06)(1526,-3.09)(1531,-3.06)(1536,-3.09)(1541,-3.14)(1546,-3.19)(1551,-3.09)(1556,-3.19)(1561,-3.24)(1566,-3.19)(1571,-3.16)(1576,-3.14)(1581,-3.12)(1586,-3.14)(1591,-3.12)(1596,-3.14)(1601,-3.12)(1606,-3.14)(1611,-3.12)(1616,-3.19)(1621,-3.24)(1626,-3.26)(1631,-3.19)(1636,-3.24)(1641,-3.29)(1646,-3.26)(1651,-3.22)(1656,-3.34)(1661,-3.39)(1666,-3.44)(1671,-3.39)(1676,-3.29)(1681,-3.24)(1686,-3.19)
(1689,-3.95)(1691,-4.95)(1693,-5.36)(1696,-5.46)(1701,-5.41)(1706,-5.10)(1711,-5.05)(1716,-5.00)(1721,-5.10)(1726,-5.05)(1731,-5.15)(1736,-5.10)(1741,-5.20)(1746,-5.15)(1751,-5.26)(1756,-5.36)(1761,-5.41)(1766,-5.46)(1771,-5.36)(1776,-5.46)(1781,-5.66)(1786,-6.01)(1791,-5.76)(1796,-5.81)(1801,-5.76)(1806,-5.86)(1811,-5.71)(1816,-5.76)(1821,-5.81)(1826,-5.66)(1831,-5.76)(1836,-5.96)(1841,-5.91)(1846,-6.01)(1851,-5.96)(1856,-6.01)(1861,-6.06)(1866,-6.01)(1871,-5.96)(1876,-6.01)(1881,-6.06)(1886,-6.01)(1891,-5.91)(1896,-5.86)(1901,-5.96)(1906,-6.01)(1911,-5.91)(1916,-5.86)(1921,-5.96)(1926,-6.06)(1931,-6.11)(1936,-6.01)(1941,-6.06)(1946,-5.96)(1951,-5.91)(1956,-5.96)(1961,-5.86)(1966,-6.01)(1971,-5.86)(1976,-6.06)(1981,-6.26)(1986,-6.11)(1991,-6.01)(1996,-6.16)(2001,-6.06)(2006,-6.16)(2011,-6.26)(2016,-6.16)(2021,-6.31)(2026,-6.26)(2031,-6.11)(2036,-5.96)(2041,-5.81)(2046,-5.76)(2051,-5.66)(2056,-5.61)(2061,-5.71)(2066,-5.66)(2071,-5.76)(2076,-5.74)(2081,-5.71)(2086,-5.76)(2091,-5.81)(2096,-5.76)(2101,-5.71)(2106,-5.61)(2109,-5.66)
};
\addlegendentry{NOK}
\node[anchor=base west, inner sep=0pt] at (rel axis cs:0,0.024)
  {{\lserif\fontsize{7}{8}\selectfont\color{black!60}\textcopyright\ 2013 }{\lserif\fontsize{9}{10}\selectfont\color{edgarred}EDGAR}{\lserif\fontsize{8}{9}\selectfont\color{edgarblue}Online}};
\end{axis}
\end{tikzpicture}
\end{document}
